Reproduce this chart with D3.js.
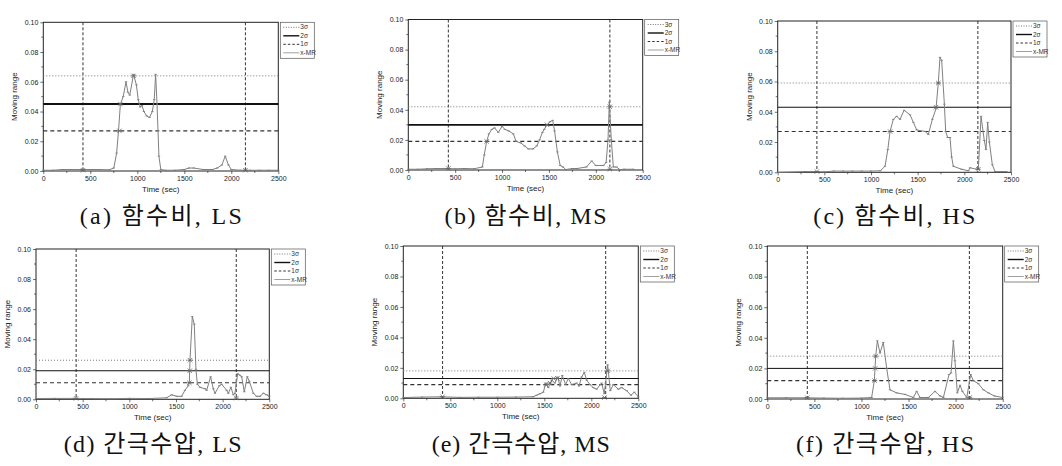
<!DOCTYPE html>
<html><head><meta charset="utf-8">
<script src="https://cdn.jsdelivr.net/npm/d3@7"></script>
<style>
body{margin:0;background:#fff;}
svg{display:block;}
</style></head>
<body>
<svg id="chart" width="1062" height="466"></svg>
<script>
// ---- data ----
const xTicks = [0, 500, 1000, 1500, 2000, 2500];
const yTicks = [0.00, 0.02, 0.04, 0.06, 0.08, 0.10];
const legendLabels = ["3σ", "2σ", "1σ", "x-MR"];
const captions = ["(a) 함수비, LS", "(b) 함수비, MS", "(c) 함수비, HS", "(d) 간극수압, LS", "(e) 간극수압, MS", "(f) 간극수압, HS"];

const timeA = [0,100,200,300,400,500,600,700,750,780,800,820,850,880,900,920,960,990,1010,1030,1050,1070,1100,1130,1160,1180,1195,1210,1230,1250,1300,1400,1500,1550,1600,1700,1800,1850,1900,1935,1970,2000,2100,2200,2300,2400,2500];
const mrA   = [0.0005,0.0005,0.001,0.001,0.001,0.001,0.001,0.0008,0.002,0.012,0.027,0.045,0.050,0.060,0.053,0.051,0.065,0.058,0.048,0.043,0.044,0.040,0.037,0.036,0.040,0.048,0.065,0.045,0.010,0.001,0.0005,0.0005,0.001,0.002,0.002,0.001,0.001,0.002,0.004,0.010,0.004,0.001,0.0005,0.0005,0.0005,0.0005,0.0005];

const timeB = [0,100,200,300,400,500,600,700,790,810,836,860,890,920,960,1000,1030,1070,1120,1150,1200,1240,1280,1330,1370,1400,1430,1450,1480,1510,1540,1560,1590,1620,1650,1680,1750,1800,1900,1956,2000,2080,2110,2130,2144,2165,2187,2220,2258,2300,2400];
const mrB   = [0.0005,0.0005,0.0008,0.001,0.001,0.0008,0.001,0.0008,0.002,0.010,0.019,0.024,0.027,0.028,0.025,0.029,0.027,0.026,0.024,0.019,0.018,0.016,0.014,0.014,0.016,0.020,0.025,0.027,0.030,0.032,0.033,0.026,0.012,0.003,0.002,0.0003,0.001,0.001,0.002,0.006,0.003,0.003,0.005,0.020,0.045,0.020,0.002,0.002,0.0002,0.0005,0.0005];

const timeC = [0,300,400,500,600,700,800,900,1000,1100,1150,1180,1204,1239,1275,1311,1354,1418,1454,1489,1579,1614,1657,1696,1721,1739,1757,1786,1800,1821,1846,1864,1882,1971,2043,2061,2132,2150,2179,2214,2232,2250,2268,2300,2329,2400,2450];
const mrC   = [0,0.0005,0.0005,0.0003,0.0008,0.0008,0.0008,0.0008,0.0008,0.001,0.004,0.015,0.027,0.035,0.037,0.035,0.041,0.038,0.033,0.028,0.027,0.025,0.035,0.042,0.059,0.076,0.074,0.045,0.027,0.023,0.023,0.010,0.004,0.002,0.001,0.003,0.002,0.002,0.037,0.021,0.015,0.033,0.020,0.005,0.0005,0.0005,0.0005];

const timeD = [0,200,400,600,800,1000,1200,1400,1454,1507,1561,1596,1632,1643,1650,1675,1696,1714,1729,1757,1811,1829,1871,1900,1918,1964,1989,2043,2061,2089,2114,2132,2161,2186,2204,2232,2264,2286,2329,2364,2400,2436,2471,2500];
const mrD   = [0.0005,0.0006,0.0006,0.0005,0.0004,0.0006,0.0005,0.001,0.003,0.002,0.002,0.006,0.009,0.011,0.026,0.055,0.050,0.020,0.010,0.008,0.007,0.006,0.015,0.007,0.004,0.009,0.010,0.006,0.004,0.008,0.003,0.004,0.017,0.016,0.015,0.005,0.015,0.012,0.004,0.002,0.002,0.004,0.003,0.002];

const timeE = [0,200,400,600,800,1000,1200,1380,1418,1454,1489,1518,1543,1578,1613,1642,1667,1691,1727,1755,1791,1844,1869,1897,1926,1950,1986,2021,2057,2110,2138,2152,2174,2202,2234,2287,2323,2376,2422,2457,2500];
const mrE   = [0.0005,0.0008,0.001,0.0006,0.0007,0.0007,0.0008,0.001,0.002,0.003,0.004,0.010,0.007,0.012,0.010,0.014,0.008,0.015,0.009,0.013,0.009,0.010,0.008,0.014,0.017,0.012,0.009,0.007,0.006,0.010,0.003,0.010,0.022,0.005,0.009,0.006,0.007,0.005,0.002,0.004,0.001];

const timeF = [0,200,400,600,800,1000,1108,1137,1151,1169,1197,1232,1268,1303,1374,1462,1551,1586,1622,1710,1781,1834,1870,1930,1951,1976,1993,2018,2047,2072,2118,2160,2188,2241,2295,2348,2411,2500];
const mrF   = [0.0008,0.0008,0.0008,0.0006,0.0005,0.0006,0.001,0.012,0.028,0.038,0.030,0.037,0.020,0.006,0.004,0.003,0.001,0.005,0.001,0.001,0.005,0.002,0.001,0.016,0.017,0.038,0.025,0.004,0.009,0.005,0.001,0.016,0.012,0.010,0.006,0.004,0.002,0.001];

// control limits [3σ, 2σ, 1σ]
const limitsA = [0.064, 0.045, 0.027];
const limitsB = [0.042, 0.030, 0.019];
const limitsC = [0.059, 0.043, 0.027];
const limitsD = [0.026, 0.019, 0.011];
const limitsE = [0.018, 0.013, 0.009];
const limitsF = [0.028, 0.020, 0.012];

// vertical reference times
const vlinesA = [422, 2150];
const vlinesB = [427, 2150];
const vlinesC = [420, 2145];
const vlinesD = [430, 2146];
const vlinesE = [418, 2153];
const vlinesF = [425, 2146];

// crossing markers [time, value]
const marksA = [[810,0.027],[820,0.045],[960,0.064],[422,0.0005],[2150,0.0005]];
const marksB = [[836,0.019],[1480,0.030],[2150,0.042],[427,0.001],[2150,0.0005]];
const marksC = [[1204,0.027],[1696,0.043],[1721,0.059],[420,0.0005],[2150,0.002]];
const marksD = [[1643,0.011],[1648,0.019],[1650,0.026],[430,0.0006],[2146,0.0008]];
const marksE = [[1518,0.009],[1560,0.010],[1600,0.013],[1640,0.013],[2174,0.018],[418,0.001],[2140,0.0005]];
const marksF = [[1140,0.012],[1145,0.020],[1151,0.028],[425,0.0008],[2150,0.001]];

// ---- layout ----
const panels = [
  {t: timeA, v: mrA, lim: limitsA, vl: vlinesA, mk: marksA, box: [43.3, 22.3, 278.3, 171], thick2: 2},
  {t: timeB, v: mrB, lim: limitsB, vl: vlinesB, mk: marksB, box: [408.3, 19.5, 642.7, 170], thick2: 1.8},
  {t: timeC, v: mrC, lim: limitsC, vl: vlinesC, mk: marksC, box: [777.7, 21, 1011, 172.3], thick2: 1.2},
  {t: timeD, v: mrD, lim: limitsD, vl: vlinesD, mk: marksD, box: [36, 249, 269.3, 399.3], thick2: 1.2},
  {t: timeE, v: mrE, lim: limitsE, vl: vlinesE, mk: marksE, box: [403.3, 246, 638.3, 398.3], thick2: 1.2},
  {t: timeF, v: mrF, lim: limitsF, vl: vlinesF, mk: marksF, box: [767.3, 246, 1002.7, 399], thick2: 1.0}
];
const captionY = [224, 452];
const captionW = [162, 178];

const svg = d3.select("#chart");
const font = '"Liberation Sans", Arial, sans-serif';

panels.forEach((p, i) => {
  const [L, T, R, B] = p.box;
  const x = d3.scaleLinear().domain([0, 2500]).range([L, R]);
  const y = d3.scaleLinear().domain([0, 0.10]).range([B, T]);
  const g = svg.append("g");

  // minor ticks
  const xMinor = d3.range(250, 2500, 500);
  const yMinor = d3.range(0.01, 0.1, 0.02);
  g.selectAll(".xm").data(xMinor).join("line")
    .attr("x1", d => x(d)).attr("x2", d => x(d)).attr("y1", B).attr("y2", B + 2)
    .attr("stroke", "#333").attr("stroke-width", 0.7);
  g.selectAll(".ym").data(yMinor).join("line")
    .attr("x1", L - 2).attr("x2", L).attr("y1", d => y(d)).attr("y2", d => y(d))
    .attr("stroke", "#333").attr("stroke-width", 0.7);

  // axes
  const xa = g.append("g").attr("transform", `translate(0,${B})`)
    .call(d3.axisBottom(x).tickValues(xTicks).tickSize(3).tickPadding(2).tickFormat(d3.format("d")));
  const ya = g.append("g").attr("transform", `translate(${L},0)`)
    .call(d3.axisLeft(y).tickValues(yTicks).tickSize(3).tickPadding(2).tickFormat(d3.format(".2f")));
  [xa, ya].forEach(a => {
    a.select(".domain").remove();
    a.selectAll("line").attr("stroke", "#333").attr("stroke-width", 0.7);
    a.selectAll("text").attr("font-size", 7).attr("fill", "#222").attr("font-family", font);
  });

  // frame
  g.append("rect").attr("x", L).attr("y", T).attr("width", R - L).attr("height", B - T)
    .attr("fill", "none").attr("stroke", "#222").attr("stroke-width", 1);

  // vertical reference lines
  g.selectAll(".vl").data(p.vl).join("line")
    .attr("x1", d => x(d)).attr("x2", d => x(d)).attr("y1", T).attr("y2", B)
    .attr("stroke", "#333").attr("stroke-width", 1).attr("stroke-dasharray", "3,2");

  // control limits
  const limStyle = [
    {stroke: "#777", w: 1, dash: "1,2"},
    {stroke: "#111", w: p.thick2, dash: null},
    {stroke: "#333", w: 1.1, dash: "4,3"}
  ];
  g.selectAll(".lim").data(p.lim).join("line")
    .attr("x1", L).attr("x2", R).attr("y1", d => y(d)).attr("y2", d => y(d))
    .attr("stroke", (d, k) => limStyle[k].stroke)
    .attr("stroke-width", (d, k) => limStyle[k].w)
    .attr("stroke-dasharray", (d, k) => limStyle[k].dash);

  // x-MR line
  const pts = p.t.map((t, k) => [t, p.v[k]]);
  g.append("path").datum(pts)
    .attr("d", d3.line().x(d => x(d[0])).y(d => y(d[1])))
    .attr("fill", "none").attr("stroke", "#808080").attr("stroke-width", 1);
  // small point markers
  g.selectAll(".pt").data(pts).join("line")
    .attr("x1", d => x(d[0]) - 1.2).attr("x2", d => x(d[0]) + 1.2)
    .attr("y1", d => y(d[1])).attr("y2", d => y(d[1]))
    .attr("stroke", "#777").attr("stroke-width", 0.8);

  // crossing markers (x shape)
  const mk = g.selectAll(".mk").data(p.mk).join("g")
    .attr("transform", d => `translate(${x(d[0])},${y(d[1])})`);
  mk.append("path").attr("d", "M-2.2,-2.2L2.2,2.2M-2.2,2.2L2.2,-2.2M-2.5,0L2.5,0")
    .attr("stroke", "#666").attr("stroke-width", 0.8);

  // axis titles
  g.append("text").attr("x", (L + R) / 2).attr("y", B + 21)
    .attr("text-anchor", "middle").attr("font-size", 8).attr("font-family", font).attr("fill", "#222")
    .text("Time (sec)");
  g.append("text").attr("transform", `translate(${L - 26},${(T + B) / 2}) rotate(-90)`)
    .attr("text-anchor", "middle").attr("font-size", 8).attr("font-family", font).attr("fill", "#222")
    .text("Moving range");

  // legend
  const lx = R + 2, ly = T, lw = 34, lh = 36;
  const lg = g.append("g");
  lg.append("rect").attr("x", lx).attr("y", ly).attr("width", lw).attr("height", lh)
    .attr("fill", "#fff").attr("stroke", "#555").attr("stroke-width", 0.7);
  const legStyle = [
    {stroke: "#777", w: 1, dash: "1,1.5"},
    {stroke: "#111", w: 1.4, dash: null},
    {stroke: "#333", w: 1, dash: "2.5,2"},
    {stroke: "#888", w: 0.8, dash: null}
  ];
  legendLabels.forEach((lab, k) => {
    const yy = ly + 5 + k * 8.5;
    lg.append("line").attr("x1", lx + 3).attr("x2", lx + 19).attr("y1", yy).attr("y2", yy)
      .attr("stroke", legStyle[k].stroke).attr("stroke-width", legStyle[k].w)
      .attr("stroke-dasharray", legStyle[k].dash);
    lg.append("text").attr("x", lx + 20).attr("y", yy + 2).attr("font-size", 6.5)
      .attr("font-family", font).attr("fill", "#333").text(lab);
  });

  // caption
  const row = Math.floor(i / 3);
  svg.append("text").attr("x", (L + R) / 2).attr("y", captionY[row])
    .attr("text-anchor", "middle").attr("font-size", 24)
    .attr("font-family", '"Liberation Serif", "Noto Sans CJK KR", serif')
    .attr("textLength", captionW[row]).attr("lengthAdjust", "spacing")
    .attr("fill", "#111").text(captions[i]);
});
</script>
</body></html>
